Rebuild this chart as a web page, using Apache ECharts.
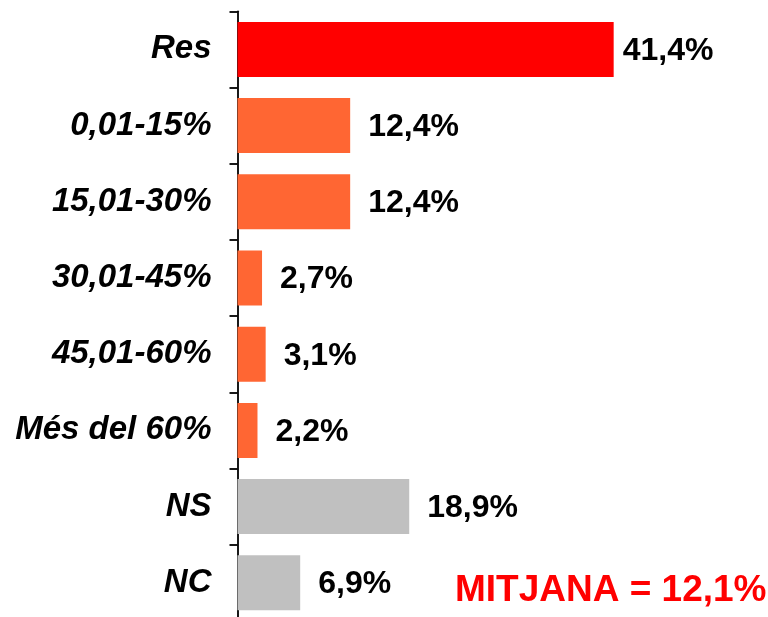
<!DOCTYPE html>
<html>
<head>
<meta charset="utf-8">
<script src="https://cdn.jsdelivr.net/npm/echarts@6/dist/echarts.min.js"></script>
<style>
  html, body { margin: 0; padding: 0; background: #fff; }
  #chart { width: 768px; height: 617px; }
</style>
</head>
<body>
<div id="chart"></div>
<script>
// Percentage breakdown by range
const categories = ['Res', '0,01-15%', '15,01-30%', '30,01-45%', '45,01-60%', 'Més del 60%', 'NS', 'NC'];
const values = [41.4, 12.4, 12.4, 2.7, 3.1, 2.2, 18.9, 6.9];
const barColors = ['#FF0000', '#FF6633', '#FF6633', '#FF6633', '#FF6633', '#FF6633', '#C0C0C0', '#C0C0C0'];
const meanText = 'MITJANA = 12,1%';

const FONT = '"Liberation Sans", Arial, sans-serif';

const fmt = v => v.toFixed(1).replace('.', ',') + '%';

const chart = echarts.init(document.getElementById('chart'), null, { renderer: 'canvas' });

chart.setOption({
  animation: false,
  backgroundColor: '#ffffff',
  grid: {
    left: 237.5, top: 11.3, width: 527, height: 609.6,
    containLabel: false,
    outerBoundsMode: 'none'
  },
  xAxis: {
    type: 'value',
    min: 0,
    max: 58,
    show: false,
    splitLine: { show: false }
  },
  yAxis: {
    type: 'category',
    data: categories,
    inverse: true,
    boundaryGap: true,
    axisLine: { show: true, lineStyle: { color: '#000', width: 1.8 } },
    axisTick: { show: true, length: 8, alignWithLabel: false, lineStyle: { color: '#000', width: 1.8 } },
    axisLabel: {
      margin: 26,
      color: '#000',
      fontFamily: FONT,
      fontSize: 33,
      fontWeight: 'bold',
      fontStyle: 'italic'
    }
  },
  series: [{
    type: 'bar',
    barWidth: 55,
    data: values.map((v, i) => ({
      value: v,
      itemStyle: { color: barColors[i] },
      label: { distance: i === 0 ? 9 : 18 }
    })),
    label: {
      show: true,
      position: 'right',
      offset: [0, 1.5],
      color: '#000',
      fontFamily: FONT,
      fontSize: 32,
      fontWeight: 'bold',
      formatter: p => fmt(p.value)
    }
  }],
  graphic: [{
    type: 'text',
    left: 455,
    top: 572,
    style: {
      text: meanText,
      fill: '#FF0000',
      font: 'bold 37px ' + FONT
    }
  }]
});
</script>
</body>
</html>
